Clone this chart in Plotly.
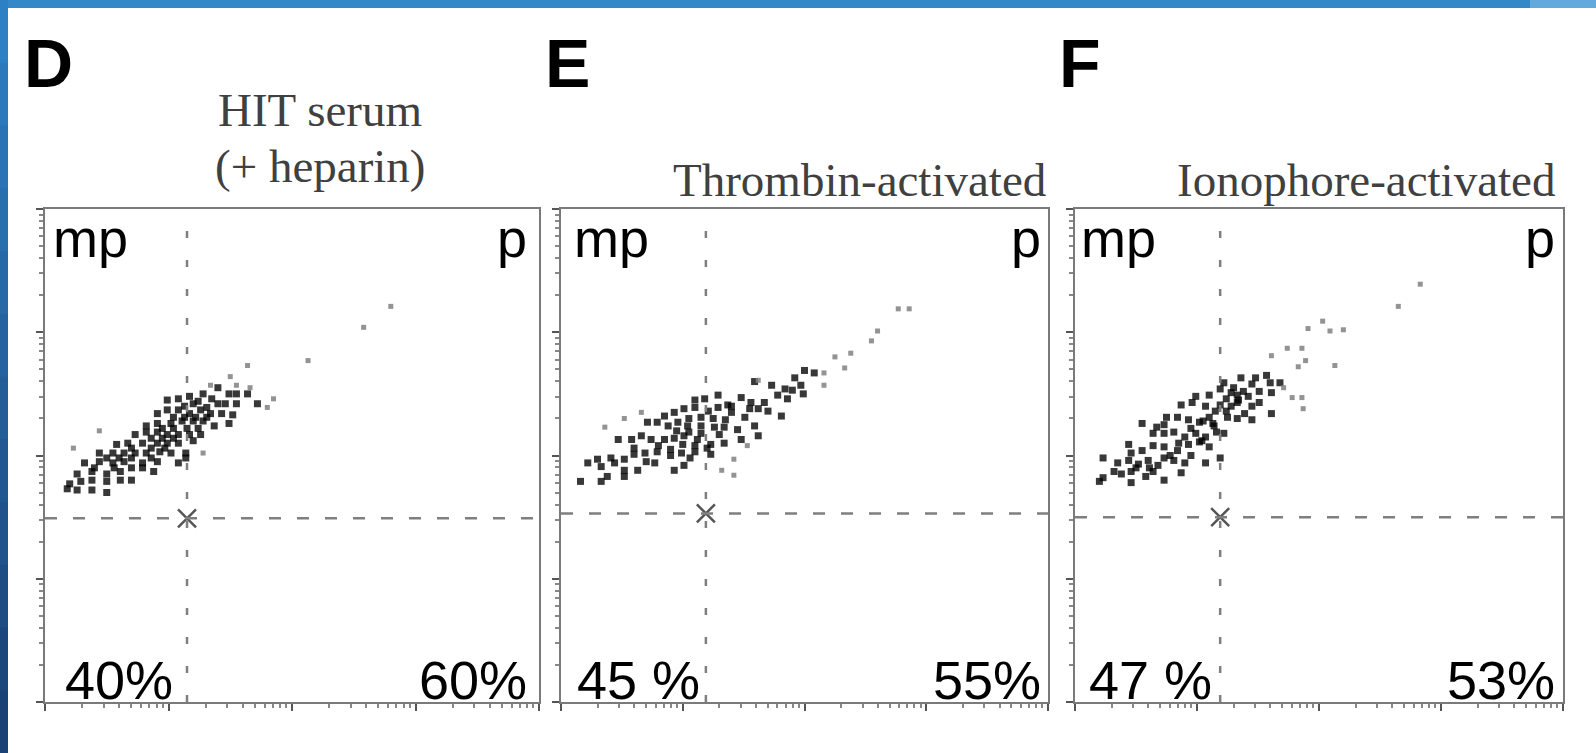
import plotly.graph_objects as go

W, H = 1596, 753

# ---------------- data (log10 fluorescence, decades 0-4) ----------------
panel_letters = ["D", "E", "F"]
panel_titles = [["HIT serum", "(+ heparin)"], ["Thrombin-activated"], ["Ionophore-activated"]]
pct_mp = ["40%", "45 %", "47 %"]
pct_p = ["60%", "55%", "53%"]
gate_x = [1.15, 1.19, 1.19]
gate_y = [1.49, 1.53, 1.50]

d_core_x = [1.17, 1.28, 1.40, 1.49, 1.55, 1.64, 0.99, 1.08, 1.20, 1.31, 1.40, 1.46, 1.55, 1.72,
            0.91, 0.99, 1.08, 1.17, 1.26, 1.34, 1.43, 1.52, 0.82, 0.91, 1.02, 1.11, 1.20, 1.28,
            1.37, 1.49, 0.73, 0.82, 0.91, 0.99, 1.08, 1.17, 1.26, 0.58, 0.67, 0.79, 0.91, 0.99,
            1.08, 1.20, 0.44, 0.55, 0.64, 0.73, 0.82, 0.93, 1.02, 1.14, 0.32, 0.44, 0.55, 0.64,
            0.79, 0.91, 1.08, 1.14, 0.26, 0.38, 0.50, 0.61, 0.79, 0.88, 0.20, 0.29, 0.38, 0.50,
            0.61, 0.70, 0.18, 0.26, 0.38, 0.50,
            1.04, 1.13, 1.22, 1.31, 0.95, 1.04, 1.15, 1.24, 0.86, 0.95, 1.04, 0.70, 0.86, 0.97,
            0.50, 0.60, 0.70, 0.86, 1.24, 1.35, 1.13, 0.40, 0.56, 0.70]
d_core_y = [2.48, 2.50, 2.55, 2.50, 2.50, 2.50, 2.45, 2.46, 2.42, 2.39, 2.42, 2.42, 2.42, 2.42,
            2.34, 2.37, 2.37, 2.34, 2.37, 2.34, 2.34, 2.33, 2.24, 2.26, 2.26, 2.28, 2.28, 2.28,
            2.24, 2.26, 2.17, 2.19, 2.19, 2.17, 2.17, 2.17, 2.17, 2.09, 2.10, 2.10, 2.10, 2.10,
            2.10, 2.12, 2.02, 2.02, 2.02, 2.02, 2.02, 2.03, 2.02, 2.02, 1.94, 1.95, 1.94, 1.95,
            1.94, 1.95, 1.94, 1.98, 1.85, 1.87, 1.85, 1.87, 1.90, 1.87, 1.77, 1.79, 1.80, 1.79,
            1.80, 1.80, 1.73, 1.72, 1.72, 1.70,
            2.31, 2.31, 2.31, 2.31, 2.22, 2.22, 2.22, 2.22, 2.14, 2.14, 2.14, 2.06, 2.06, 2.06,
            1.98, 1.98, 1.98, 1.98, 2.44, 2.46, 2.40, 1.90, 1.90, 1.90]
d_sparse_x = [1.85, 1.64, 1.50, 2.13, 2.58, 2.80, 1.66, 1.80, 1.34, 1.55, 0.44, 0.23, 1.28]
d_sparse_y = [2.46, 2.73, 2.64, 2.77, 3.04, 3.21, 2.55, 2.39, 2.57, 2.57, 2.20, 2.06, 2.02]

e_core_x = [2.00, 2.08, 1.92, 1.59, 1.73, 1.84, 1.90, 1.97, 1.99, 1.10, 1.18, 1.29, 1.37, 1.48,
            1.56, 1.67, 1.78, 1.86, 0.85, 0.93, 1.01, 1.10, 1.21, 1.29, 1.40, 1.51, 1.62, 1.70,
            1.81, 0.71, 0.79, 0.88, 0.96, 1.04, 1.15, 1.26, 1.34, 1.45, 1.59, 0.47, 0.58, 0.66,
            0.74, 0.85, 0.93, 1.01, 1.12, 1.23, 1.34, 1.48, 1.62, 0.30, 0.41, 0.52, 0.60, 0.69,
            0.79, 0.90, 0.99, 1.10, 1.23, 0.22, 0.33, 0.44, 0.52, 0.63, 0.77, 0.93, 1.01, 0.16,
            0.33, 0.38, 0.52,
            1.05, 1.15, 1.25, 1.35, 0.95, 1.05, 1.15, 1.30, 1.00, 1.10, 1.20, 0.80, 0.90, 1.06,
            1.40, 1.55, 0.60, 0.70]
e_core_y = [2.69, 2.67, 2.63, 2.60, 2.57, 2.54, 2.53, 2.57, 2.50, 2.45, 2.46, 2.49, 2.41, 2.47,
            2.43, 2.43, 2.49, 2.46, 2.32, 2.35, 2.38, 2.39, 2.36, 2.39, 2.35, 2.31, 2.38, 2.36,
            2.32, 2.27, 2.27, 2.24, 2.27, 2.24, 2.24, 2.23, 2.23, 2.21, 2.24, 2.13, 2.13, 2.16,
            2.13, 2.13, 2.14, 2.16, 2.13, 2.09, 2.10, 2.13, 2.16, 1.97, 1.98, 1.97, 2.01, 2.02,
            2.03, 2.05, 2.02, 2.03, 2.01, 1.94, 1.91, 1.94, 1.88, 1.88, 1.94, 1.88, 1.92, 1.79,
            1.79, 1.83, 1.83,
            2.30, 2.31, 2.30, 2.29, 2.20, 2.19, 2.18, 2.17, 2.09, 2.08, 2.06, 2.08, 2.00, 1.98,
            2.40, 2.38, 2.06, 1.95]
e_sparse_x = [2.16, 1.42, 1.32, 1.42, 1.53, 0.36, 0.52, 0.66, 1.62, 2.77, 2.86, 2.60, 2.55,
              2.38, 2.25, 2.33, 2.16]
e_sparse_y = [2.67, 1.97, 1.88, 1.84, 2.08, 2.23, 2.30, 2.35, 2.61, 3.19, 3.19, 3.01, 2.93,
              2.83, 2.80, 2.71, 2.57]

f_core_x = [1.36, 1.48, 1.57, 1.60, 1.22, 1.45, 1.68, 1.19, 1.28, 1.33, 1.42, 1.51, 1.61, 1.10,
            0.99, 0.87, 0.96, 1.07, 1.19, 1.28, 1.33, 1.45, 1.51, 1.61, 1.39, 0.75, 0.84, 0.93,
            1.02, 1.13, 1.25, 1.33, 1.45, 0.73, 1.10, 0.64, 0.73, 0.81, 0.90, 0.99, 1.07, 1.16,
            1.22, 0.55, 0.67, 0.46, 0.55, 0.64, 0.73, 0.84, 0.93, 1.02, 1.10, 0.44, 0.35, 0.44,
            0.52, 0.61, 0.73, 0.81, 0.90, 1.07, 1.19, 0.23, 0.23, 0.32, 0.38, 0.46, 0.58, 0.64,
            0.73, 0.87, 0.20, 0.46,
            1.30, 1.38, 1.24, 1.34, 1.15, 1.24, 1.05, 1.14, 0.95, 1.04, 0.85, 0.95, 0.78, 0.68,
            0.60, 0.50]
f_core_y = [2.63, 2.63, 2.65, 2.59, 2.59, 2.58, 2.59, 2.54, 2.51, 2.49, 2.48, 2.52, 2.51, 2.49,
            2.48, 2.41, 2.43, 2.40, 2.41, 2.40, 2.43, 2.40, 2.43, 2.34, 2.34, 2.31, 2.31, 2.29,
            2.27, 2.26, 2.31, 2.30, 2.29, 2.25, 2.31, 2.18, 2.18, 2.19, 2.15, 2.18, 2.15, 2.19,
            2.18, 2.26, 2.23, 2.02, 2.04, 2.08, 2.07, 2.04, 2.09, 2.11, 2.07, 2.09, 1.94, 1.96,
            1.93, 1.90, 1.98, 1.96, 1.94, 1.94, 1.98, 1.98, 1.82, 1.87, 1.85, 1.87, 1.83, 1.87,
            1.80, 1.86, 1.79, 1.78,
            2.55, 2.52, 2.46, 2.45, 2.36, 2.36, 2.28, 2.24, 2.22, 2.12, 2.10, 2.00, 2.00, 1.92,
            1.96, 1.90]
f_sparse_x = [2.83, 2.65, 2.03, 1.91, 2.20, 2.09, 1.86, 1.74, 1.61, 1.83, 2.13, 1.89, 1.86,
              1.87, 1.78, 1.71]
f_sparse_y = [3.39, 3.21, 3.09, 3.03, 3.02, 3.01, 2.87, 2.87, 2.81, 2.72, 2.73, 2.77, 2.47,
              2.38, 2.47, 2.55]

cores = [(d_core_x, d_core_y), (e_core_x, e_core_y), (f_core_x, f_core_y)]
sparses = [(d_sparse_x, d_sparse_y), (e_sparse_x, e_sparse_y), (f_sparse_x, f_sparse_y)]

# ---------------- layout geometry (pixels) ----------------
panel_px = [(45, 539, 209, 702), (561, 1048, 209, 702), (1075, 1563, 209, 702)]
letter_x = [22, 543, 1057]
mp_x = [51, 572, 1079]
p_right = [529, 1043, 1557]
pct_left = [63, 575, 1087]


def px(x):
    return x / W


def py(y):
    return 1 - y / H


fig = go.Figure()
SANS = "Liberation Sans, Arial, sans-serif"
SERIF = "Liberation Serif, Times New Roman, serif"

for i in range(3):
    sx = "" if i == 0 else str(i + 1)
    xa, ya = "x" + sx, "y" + sx
    cx, cy = cores[i]
    sxv, syv = sparses[i]
    fig.add_trace(go.Scatter(
        x=[10 ** v for v in cx], y=[10 ** v for v in cy], mode="markers",
        marker=dict(symbol="square", size=7, color="#000000", opacity=0.78, line=dict(width=0)),
        xaxis=xa, yaxis=ya, showlegend=False, hoverinfo="skip"))
    fig.add_trace(go.Scatter(
        x=[10 ** v for v in sxv], y=[10 ** v for v in syv], mode="markers",
        marker=dict(symbol="square", size=5, color="#808080", opacity=0.85, line=dict(width=0)),
        xaxis=xa, yaxis=ya, showlegend=False, hoverinfo="skip"))
    # gate crosshair
    fig.add_trace(go.Scatter(
        x=[10 ** gate_x[i]], y=[10 ** gate_y[i]], mode="markers",
        marker=dict(symbol="x-thin", size=18, line=dict(width=2.5, color="#555555")),
        xaxis=xa, yaxis=ya, showlegend=False, hoverinfo="skip"))

    x0, x1, y0, y1 = panel_px[i]
    common = dict(type="log", range=[0, 4], dtick=1, showticklabels=False, showgrid=False,
                  zeroline=False, showline=True, linecolor="#7a7a7a", linewidth=2, mirror=True,
                  ticks="outside", ticklen=7, tickwidth=2, tickcolor="#555555",
                  minor=dict(ticks="outside", ticklen=4, tickwidth=1.5, tickcolor="#888888",
                             showgrid=False))
    fig.update_layout(**{
        "xaxis" + sx: dict(domain=[px(x0), px(x1)], anchor=ya, **common),
        "yaxis" + sx: dict(domain=[py(y1), py(y0)], anchor=xa, **common),
    })
    # gate lines
    fig.add_shape(type="line", xref=xa + " domain", yref=ya, x0=0, x1=1,
                  y0=10 ** gate_y[i], y1=10 ** gate_y[i],
                  line=dict(color="#7f7f7f", width=2.5, dash="12px,16px"))
    fig.add_shape(type="line", xref=xa, yref=ya + " domain", y0=0, y1=1,
                  x0=10 ** gate_x[i], x1=10 ** gate_x[i],
                  line=dict(color="#7f7f7f", width=2.5, dash="7px,22px"))

    # texts
    fig.add_annotation(xref="paper", yref="paper", x=px(letter_x[i]), y=py(63),
                       xanchor="left", yanchor="middle", showarrow=False, text=panel_letters[i],
                       font=dict(family=SANS, size=68, color="#000000", weight="bold"))
    fig.add_annotation(xref="paper", yref="paper", x=px(mp_x[i]), y=py(238),
                       xanchor="left", yanchor="middle", showarrow=False, text="mp",
                       font=dict(family=SANS, size=54, color="#000000"))
    fig.add_annotation(xref="paper", yref="paper", x=px(p_right[i]), y=py(238),
                       xanchor="right", yanchor="middle", showarrow=False, text="p",
                       font=dict(family=SANS, size=54, color="#000000"))
    fig.add_annotation(xref="paper", yref="paper", x=px(pct_left[i]), y=py(680),
                       xanchor="left", yanchor="middle", showarrow=False, text=pct_mp[i],
                       font=dict(family=SANS, size=54, color="#000000"))
    fig.add_annotation(xref="paper", yref="paper", x=px(p_right[i]), y=py(680),
                       xanchor="right", yanchor="middle", showarrow=False, text=pct_p[i],
                       font=dict(family=SANS, size=54, color="#000000"))

# titles
tfont = dict(family=SERIF, size=47, color="#404040")
fig.add_annotation(xref="paper", yref="paper", x=px(320), y=py(110), xanchor="center",
                   yanchor="middle", showarrow=False, text=panel_titles[0][0], font=tfont)
fig.add_annotation(xref="paper", yref="paper", x=px(320), y=py(166), xanchor="center",
                   yanchor="middle", showarrow=False, text=panel_titles[0][1], font=tfont)
fig.add_annotation(xref="paper", yref="paper", x=px(1048), y=py(180), xanchor="right",
                   yanchor="middle", showarrow=False, text=panel_titles[1][0], font=tfont)
fig.add_annotation(xref="paper", yref="paper", x=px(1557), y=py(180), xanchor="right",
                   yanchor="middle", showarrow=False, text=panel_titles[2][0], font=tfont)

# blue frame (decorative border of the scanned page)
fig.add_shape(type="rect", xref="paper", yref="paper", x0=0, x1=1, y0=py(8), y1=1,
              fillcolor="#3388c8", line=dict(width=0), layer="above")
fig.add_shape(type="rect", xref="paper", yref="paper", x0=px(1530), x1=1, y0=py(8), y1=1,
              fillcolor="#62a9dd", line=dict(width=0), layer="above")
nseg = 12
c_top = (46, 128, 196)
c_bot = (27, 66, 118)
for k in range(nseg):
    t = k / (nseg - 1)
    c = tuple(int(c_top[j] + (c_bot[j] - c_top[j]) * t) for j in range(3))
    fig.add_shape(type="rect", xref="paper", yref="paper", x0=0, x1=px(8),
                  y0=py(min(H, H * (k + 1) / nseg + 2)), y1=py(H * k / nseg),
                  fillcolor="rgb(%d,%d,%d)" % c, line=dict(width=0), layer="above")

fig.update_layout(width=W, height=H, autosize=False, margin=dict(l=0, r=0, t=0, b=0),
                  paper_bgcolor="white", plot_bgcolor="white")

fig.write_html("out.html")
